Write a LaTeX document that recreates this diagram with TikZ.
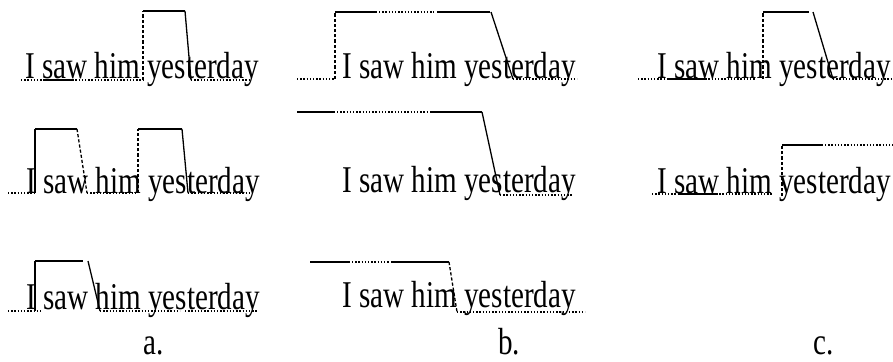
\documentclass[tikz,border=0pt]{standalone}
\usepackage{fontspec}
\newfontfamily\condserif[FakeStretch=0.77]{Liberation Serif}
\begin{document}
\begin{tikzpicture}[x=1pt,y=-1pt,
  txt/.style={anchor=base west, inner sep=0pt, font=\condserif\fontsize{37.8}{40}\selectfont},
  hiline/.style={line width=1.9pt},
  fallline/.style={line width=1.3pt},
  dotline/.style={line width=1.4pt, dash pattern=on 1.4pt off 1.8pt},
  dashline/.style={line width=1.3pt, dash pattern=on 3.2pt off 2pt},
]
\useasboundingbox (0,0) rectangle (893,361);

% ---- a1
\node[txt] (a1) at (25,78) {I saw him yesterday};
\draw[dotline] (21,80) -- (143,80);
\draw[hiline] (43,80) -- (73,80);
\draw[dashline] (143,80) -- (143,11);
\draw[hiline] (143,11) -- (185,11);
\draw[fallline] (185,11) -- (191,80);
\draw[dotline] (191,80) -- (250,80);

% ---- b1
\node[txt] (b1) at (342,78) {I saw him yesterday};
\draw[dotline] (297,79) -- (335,79);
\draw[dashline] (335,79) -- (335,12);
\draw[hiline] (335,12) -- (377,12);
\draw[dotline] (379,12) -- (434,12);
\draw[hiline] (437,12) -- (490,12);
\draw[fallline] (491,12) -- (513,79);
\draw[dotline] (513,79) -- (577,79);

% ---- c1
\node[txt] (c1) at (657,78) {I saw him yesterday};
\draw[dotline] (638,79) -- (755,79);
\draw[hiline] (667,79) -- (705,79);
\draw[dashline] (763,79) -- (763,12);
\draw[hiline] (763,12) -- (809,12);
\draw[fallline] (813,12) -- (833,79);
\draw[dotline] (833,79) -- (892,79);

% ---- a2
\node[txt] (a2) at (26,193) {I saw him yesterday};
\draw[dotline] (8,193) -- (35,193);
\draw[fallline] (35,193) -- (35,129);
\draw[hiline] (35,129) -- (77,129);
\draw[dashline] (77,129) -- (87,193);
\draw[dotline] (87,193) -- (138,193);
\draw[dashline] (138,193) -- (138,129);
\draw[hiline] (138,129) -- (182,129);
\draw[fallline] (182,129) -- (188,193);
\draw[dotline] (188,193) -- (252,193);

% ---- b2
\node[txt] (b2) at (342,192) {I saw him yesterday};
\draw[hiline] (297,112) -- (335,112);
\draw[dotline] (337,112) -- (428,112);
\draw[hiline] (430,112) -- (482,112);
\draw[fallline] (482,112) -- (500,195);
\draw[dotline] (500,195) -- (572,195);

% ---- c2
\node[txt] (c2) at (657,193) {I saw him yesterday};
\draw[dotline] (652,194) -- (773,194);
\draw[hiline] (678,194) -- (718,194);
\draw[dashline] (782,196) -- (782,145);
\draw[hiline] (782,145) -- (823,145);
\draw[dotline] (825,145) -- (893,145);

% ---- a3
\node[txt] (a3) at (26,309) {I saw him yesterday};
\draw[dotline] (8,311) -- (41,311);
\draw[fallline] (35,311) -- (35,261);
\draw[hiline] (35,261) -- (83,261);
\draw[fallline] (88,261) -- (100,311);
\draw[dotline] (100,311) -- (180,311);
\draw[dotline] (185,311) -- (258,311);

% ---- b3
\node[txt] (b3) at (342,307) {I saw him yesterday};
\draw[hiline] (310,262) -- (350,262);
\draw[dotline] (352,262) -- (389,262);
\draw[hiline] (391,262) -- (449,262);
\draw[dashline] (449,262) -- (457,312);
\draw[dotline] (457,312) -- (585,312);

% ---- labels
\node[txt] (la) at (143,354) {a.};
\node[txt] (lb) at (498,354) {b.};
\node[txt] (lc) at (813,354) {c.};
\end{tikzpicture}
\end{document}
